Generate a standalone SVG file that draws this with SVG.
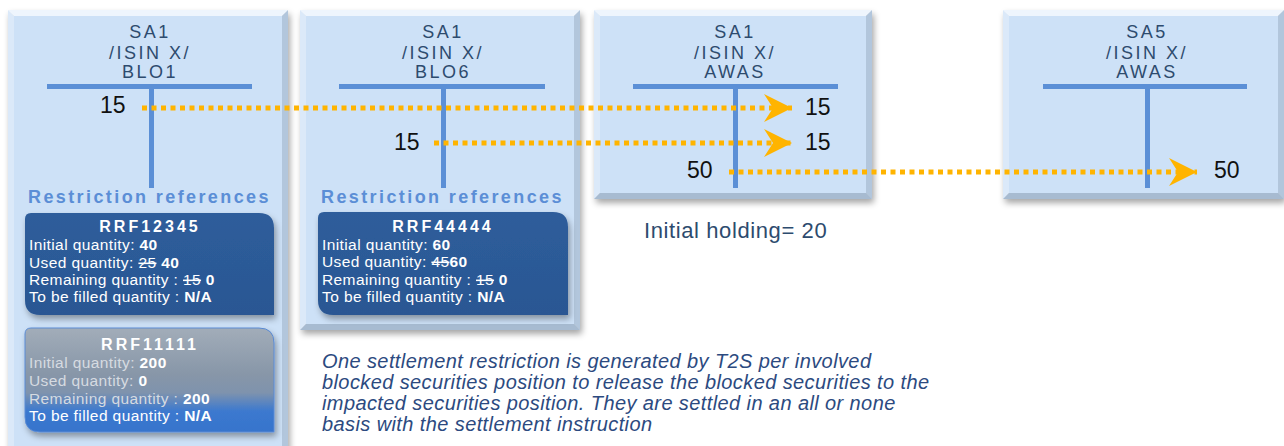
<svg xmlns="http://www.w3.org/2000/svg" width="1284" height="446" viewBox="0 0 1284 446">
<defs>
<style>
.title{font-family:"Liberation Sans",Arial,sans-serif;font-size:18px;fill:#2d4b6e;text-anchor:middle;letter-spacing:2.5px}
.tbar{fill:#5b8fd6}
.num{font-family:"Liberation Sans",Arial,sans-serif;font-size:23px;fill:#111}
.rref{font-family:"Liberation Sans",Arial,sans-serif;font-size:18px;font-weight:bold;fill:#5b8ed6;letter-spacing:2.4px}
.rtitle{font-family:"Liberation Sans",Arial,sans-serif;font-size:16px;font-weight:bold;fill:#fff;text-anchor:middle;letter-spacing:3px}
.rl{font-family:"Liberation Sans",Arial,sans-serif;font-size:15.5px;fill:#fff;letter-spacing:0.4px}
.b{font-weight:bold}
.dim{fill:#d6dbe1}
.conn{stroke:#ffb400;stroke-width:5;stroke-dasharray:5 4.5;fill:none}
.note{font-family:"Liberation Sans",Arial,sans-serif;font-size:20px;font-style:italic;fill:#2c4a80;letter-spacing:0.4px}
.hold{font-family:"Liberation Sans",Arial,sans-serif;font-size:22px;fill:#2d4b6e;letter-spacing:0.6px}
.bt{fill:#eef5fd}.bl{fill:#dbe9f9}.br{fill:#b2c6dc}.bb{fill:#a7bbd1}.bc{fill:#cde1f7}
</style>
<filter id="sh" x="-10%" y="-10%" width="130%" height="130%">
<feDropShadow dx="2" dy="4" stdDeviation="3" flood-color="#000" flood-opacity="0.35"/>
</filter>
<linearGradient id="gray" x1="0" y1="0" x2="0" y2="1">
<stop offset="0" stop-color="#a2adb9"/>
<stop offset="0.45" stop-color="#8796a8"/>
<stop offset="0.62" stop-color="#7f93ad"/>
<stop offset="0.8" stop-color="#3c79cf"/>
<stop offset="1" stop-color="#3674cc"/>
</linearGradient>
<linearGradient id="dblue" x1="0" y1="0" x2="0" y2="1">
<stop offset="0" stop-color="#2e5d9b"/>
<stop offset="1" stop-color="#2a5793"/>
</linearGradient>
<marker id="chev" viewBox="0 0 28 28" markerWidth="28" markerHeight="28" refX="28" refY="14" orient="auto" markerUnits="userSpaceOnUse">
<path d="M0,0 L28,14 L0,28 L9,14 Z" fill="#ffb400"/>
</marker>
</defs>
<rect width="1284" height="446" fill="#fff"/>

<g id="box1">
<g filter="url(#sh)">
<polygon class="bt" points="8,10 288,10 282,16 14,16"/>
<polygon class="bl" points="8,10 14,16 14,452 8,452"/>
<polygon class="br" points="288,10 288,452 282,452 282,16"/>
<rect class="bc" x="14" y="16" width="268" height="436"/>
</g>
<text class="title" x="150" y="38">SA1</text>
<text class="title" x="150" y="59">/ISIN X/</text>
<text class="title" x="150" y="78">BLO1</text>
<rect class="tbar" x="47" y="84" width="205" height="5"/>
<rect class="tbar" x="149" y="86" width="5" height="102"/>
<text class="num" x="100" y="113">15</text>
<text class="rref" x="28" y="203">Restriction references</text>
</g>

<g id="rrf12345">
<path d="M31,213 H259 Q274,213 274,228 V315 H40 Q25,315 25,300 V219 Q25,213 31,213 Z" fill="url(#dblue)" filter="url(#sh)"/>
<text class="rtitle" x="150" y="232">RRF12345</text>
<text class="rl" x="29" y="250">Initial quantity: <tspan class="b">40</tspan></text>
<text class="rl" x="29" y="268">Used quantity: <tspan text-decoration="line-through">25</tspan> <tspan class="b">40</tspan></text>
<text class="rl" x="29" y="285">Remaining quantity : <tspan text-decoration="line-through">15</tspan> <tspan class="b">0</tspan></text>
<text class="rl" x="29" y="302">To be filled quantity : <tspan class="b">N/A</tspan></text>
</g>

<g id="rrf11111">
<path d="M31,328 H259 Q274,328 274,343 V432 H40 Q25,432 25,417 V334 Q25,328 31,328 Z" fill="url(#gray)" stroke="#5a8bd4" stroke-width="1" filter="url(#sh)"/>
<text class="rtitle" x="150" y="350">RRF11111</text>
<text class="rl dim" x="29" y="368">Initial quantity: <tspan class="b" fill="#fff">200</tspan></text>
<text class="rl dim" x="29" y="386">Used quantity: <tspan class="b" fill="#fff">0</tspan></text>
<text class="rl dim" x="29" y="404">Remaining quantity : <tspan class="b" fill="#fff">200</tspan></text>
<text class="rl" x="29" y="421">To be filled quantity : <tspan class="b">N/A</tspan></text>
</g>

<g id="box2">
<g filter="url(#sh)">
<polygon class="bt" points="300,10 580,10 574,16 306,16"/>
<polygon class="bl" points="300,10 306,16 306,324 300,330"/>
<polygon class="br" points="580,10 580,330 574,324 574,16"/>
<polygon class="bb" points="300,330 580,330 574,324 306,324"/>
<rect class="bc" x="306" y="16" width="268" height="308"/>
</g>
<text class="title" x="443" y="38">SA1</text>
<text class="title" x="443" y="59">/ISIN X/</text>
<text class="title" x="443" y="78">BLO6</text>
<rect class="tbar" x="339" y="84" width="206" height="5"/>
<rect class="tbar" x="441" y="86" width="5" height="102"/>
<text class="num" x="394" y="150">15</text>
<text class="rref" x="321" y="203">Restriction references</text>
</g>

<g id="rrf44444">
<path d="M324,212 H553 Q568,212 568,227 V315 H333 Q318,315 318,300 V218 Q318,212 324,212 Z" fill="url(#dblue)" filter="url(#sh)"/>
<text class="rtitle" x="443" y="232">RRF44444</text>
<text class="rl" x="322" y="250">Initial quantity: <tspan class="b">60</tspan></text>
<text class="rl" x="322" y="267">Used quantity: <tspan text-decoration="line-through">45</tspan><tspan class="b">60</tspan></text>
<text class="rl" x="322" y="285">Remaining quantity : <tspan text-decoration="line-through">15</tspan> <tspan class="b">0</tspan></text>
<text class="rl" x="322" y="302">To be filled quantity : <tspan class="b">N/A</tspan></text>
</g>

<g id="box3">
<g filter="url(#sh)">
<polygon class="bt" points="594,10 872,10 866,16 600,16"/>
<polygon class="bl" points="594,10 600,16 600,193 594,199"/>
<polygon class="br" points="872,10 872,199 866,193 866,16"/>
<polygon class="bb" points="594,199 872,199 866,193 600,193"/>
<rect class="bc" x="600" y="16" width="266" height="177"/>
</g>
<text class="title" x="735" y="38">SA1</text>
<text class="title" x="735" y="59">/ISIN X/</text>
<text class="title" x="735" y="78">AWAS</text>
<rect class="tbar" x="633" y="84" width="205" height="5"/>
<rect class="tbar" x="733" y="86" width="5" height="102"/>
<text class="num" x="805" y="115">15</text>
<text class="num" x="805" y="150">15</text>
<text class="num" x="687" y="178">50</text>
</g>

<g id="box4">
<g filter="url(#sh)">
<polygon class="bt" points="1003,10 1284,10 1278,16 1009,16"/>
<polygon class="bl" points="1003,10 1009,16 1009,193 1003,199"/>
<polygon class="br" points="1284,10 1284,199 1278,193 1278,16"/>
<polygon class="bb" points="1003,199 1284,199 1278,193 1009,193"/>
<rect class="bc" x="1009" y="16" width="269" height="177"/>
</g>
<text class="title" x="1147" y="38">SA5</text>
<text class="title" x="1147" y="59">/ISIN X/</text>
<text class="title" x="1147" y="78">AWAS</text>
<rect class="tbar" x="1043" y="84" width="204" height="5"/>
<rect class="tbar" x="1145" y="86" width="5" height="102"/>
<text class="num" x="1214" y="178">50</text>
</g>

<g id="connectors">
<line class="conn" x1="142" y1="108" x2="792" y2="108" marker-end="url(#chev)"/>
<line class="conn" x1="434" y1="143" x2="792" y2="143" marker-end="url(#chev)"/>
<line class="conn" x1="729" y1="172" x2="1197" y2="172" marker-end="url(#chev)"/>
</g>

<text class="hold" x="644" y="238">Initial holding= 20</text>

<g id="note">
<text class="note" x="322" y="368">One settlement restriction is generated by T2S per involved</text>
<text class="note" x="322" y="389">blocked securities position to release the blocked securities to the</text>
<text class="note" x="322" y="410">impacted securities position. They are settled in an all or none</text>
<text class="note" x="322" y="431">basis with the settlement instruction</text>
</g>
</svg>
